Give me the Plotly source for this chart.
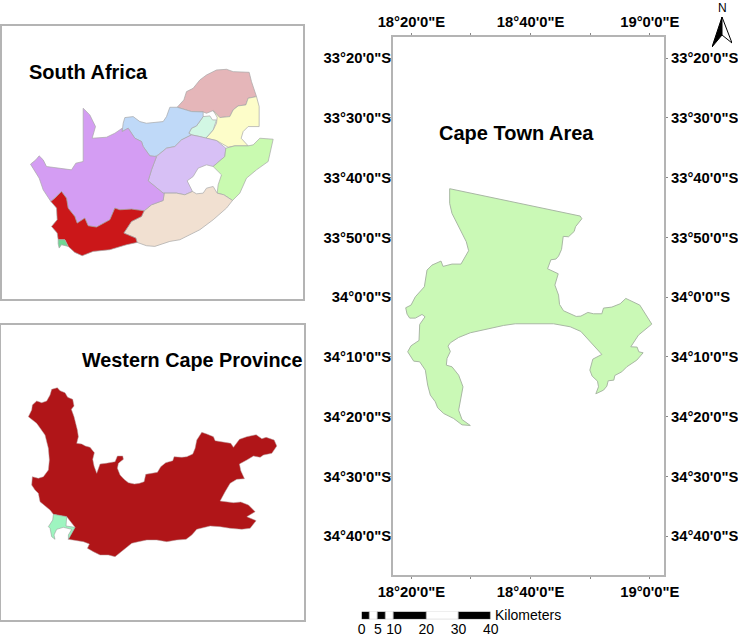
import plotly.graph_objects as go

W, H = 738, 636
FONT = "Liberation Sans, Arial, sans-serif"
FRAME = "#b4b4b4"
EDGE = "#a8a8a8"

# ---------- Map outlines (digitised map units, y grows southward) ----------
limpopo = [(532,262),(552,240),(560,215),(580,205),(600,180),(620,165),(650,150),(680,148),(700,155),(748,157),(755,185),(770,230),(745,235),(738,255),(715,258),(700,270),(690,290),(660,293),(640,272),(620,280),(610,276),(575,275)]
mpumalanga = [(770,230),(778,260),(778,320),(745,320),(730,335),(724,355),(745,378),(705,378),(685,382),(650,362),(618,355),(640,330),(650,310),(652,292),(640,272),(660,293),(690,290),(700,270),(715,258),(738,255),(745,235)]
gauteng = [(610,290),(630,288),(638,300),(650,300),(640,330),(618,355),(600,350),(575,345),(567,340),(575,325),(590,318),(600,305)]
north_west = [(375,293),(400,290),(420,305),(440,310),(490,305),(500,290),(510,262),(532,262),(575,275),(610,276),(610,290),(600,305),(590,318),(575,325),(567,340),(575,345),(545,360),(525,380),(500,385),(475,405),(465,410),(450,408),(430,380),(425,365),(405,355),(385,325),(367,335),(370,310)]
free_state = [(545,360),(575,345),(600,350),(618,355),(650,362),(678,385),(675,410),(640,440),(620,435),(595,445),(580,470),(562,483),(578,515),(555,525),(530,520),(490,520),(445,483),(455,450),(470,410),(500,385),(525,380)]
kzn = [(780,355),(820,358),(805,425),(770,450),(740,475),(720,520),(698,542),(672,525),(652,520),(655,495),(665,465),(640,440),(675,410),(678,385),(705,378),(745,378),(760,375)]
eastern_cape = [(698,542),(680,565),(640,600),(600,630),(540,660),(510,665),(465,680),(440,678),(412,668),(408,655),(372,640),(395,605),(425,590),(433,573),(455,555),(490,542),(493,520),(530,520),(555,525),(578,515),(590,522),(610,520),(620,505),(640,500),(652,520),(672,525)]
northern_cape = [(250,265),(270,285),(287,320),(277,355),(320,352),(345,340),(367,325),(367,335),(385,325),(405,355),(425,365),(430,380),(450,408),(465,410),(470,410),(455,450),(445,483),(490,520),(493,520),(490,542),(455,555),(433,573),(395,568),(360,570),(345,565),(330,600),(290,622),(265,618),(255,595),(232,610),(225,590),(205,565),(200,535),(185,515),(165,535),(153,545),(130,510),(118,475),(92,433),(108,420),(118,408),(130,420),(140,440),(180,445),(215,450),(228,430),(250,425)]
western_cape = [(185,515),(200,535),(205,565),(225,590),(232,610),(255,595),(265,618),(290,622),(330,600),(345,565),(360,570),(395,568),(433,573),(425,590),(395,605),(372,640),(408,655),(412,668),(380,675),(330,690),(280,695),(247,708),(225,698),(205,680),(195,660),(175,660),(172,640),(155,620),(172,600),(170,565),(153,545),(165,535)]
sa_cape_town = [(175,660),(195,660),(205,680),(185,675),(178,685),(175,672)]

province_shapes = [limpopo, mpumalanga, gauteng, north_west, free_state, kzn, eastern_cape, northern_cape, western_cape, sa_cape_town]
province_colors = ["#e5b6b9", "#fdfdc9", "#d2f7e4", "#bfd9f8", "#d7c0f5", "#c9fab0", "#f1e0d1", "#d49df3", "#cb1719", "#6fd694"]

wc_outline = [(155,208),(172,203),(180,212),(195,218),(203,232),(218,238),(222,258),(214,268),(222,290),(228,310),(232,330),(235,350),(230,370),(245,372),(256,378),(270,382),(283,398),(278,418),(282,438),(290,460),(296,445),(300,432),(318,430),(332,428),(345,425),(352,408),(368,408),(370,418),(355,430),(352,445),(360,465),(372,478),(385,488),(403,492),(418,490),(432,485),(437,463),(455,460),(472,457),(482,440),(497,428),(518,422),(522,410),(545,412),(560,410),(578,402),(585,385),(590,360),(605,337),(620,342),(640,350),(645,362),(665,365),(692,370),(700,382),(718,358),(740,350),(768,344),(785,356),(798,352),(822,360),(830,378),(815,400),(790,405),(780,412),(760,408),(740,420),(718,432),(722,452),(733,476),(710,478),(690,490),(675,515),(660,543),(700,548),(722,546),(745,555),(765,575),(740,590),(768,602),(750,625),(725,628),(690,625),(660,620),(630,618),(590,628),(575,645),(558,658),(530,660),(500,665),(470,660),(440,660),(415,665),(395,670),(370,690),(345,710),(325,705),(300,705),(280,695),(262,685),(268,672),(250,665),(205,658),(225,622),(200,590),(160,583),(150,570),(120,545),(115,520),(105,510),(95,495),(97,470),(115,475),(130,470),(145,450),(148,420),(145,385),(135,345),(110,310),(85,290),(95,270),(97,255),(110,243),(125,248),(140,243),(150,225)]
wc_cape_town = [(160,583),(200,590),(198,618),(225,622),(215,640),(205,658),(205,645),(215,628),(190,622),(170,628),(162,645),(165,658),(155,650),(150,625),(145,620),(158,600)]

cape_town_area = [(178,56),(570,138),(575,146),(556,170),(552,184),(535,200),(519,199),(514,238),(505,258),(497,267),(482,269),(472,296),(504,311),(494,345),(505,375),(508,403),(520,422),(558,439),(572,438),(593,427),(610,431),(635,431),(640,414),(665,411),(690,401),(707,385),(749,405),(785,462),(745,495),(722,530),(741,531),(746,545),(759,548),(740,570),(710,590),(695,605),(674,616),(671,630),(654,632),(650,648),(640,660),(617,671),(625,650),(622,633),(606,618),(599,600),(608,567),(635,553),(572,484),(540,470),(490,461),(430,460),(375,461),(340,466),(300,475),(240,488),(205,502),(180,518),(173,528),(180,544),(170,565),(168,585),(185,590),(205,615),(218,650),(212,685),(205,720),(215,748),(240,766),(215,764),(190,745),(160,730),(142,713),(135,695),(120,675),(112,645),(105,600),(88,575),(70,573),(52,545),(62,527),(86,511),(88,463),(104,440),(95,433),(75,444),(58,444),(50,432),(46,413),(62,405),(75,380),(102,350),(110,300),(125,285),(152,273),(158,289),(185,282),(212,282),(235,242),(228,215),(205,170),(185,130),(178,100)]

# Calibration of the digitised Cape Town units to degrees
LON_AT_0, LON_PER_UNIT = 18.2747, 0.000931
LAT_AT_0, LAT_PER_UNIT = -33.6457, -0.000930

# ---------- Graticule ----------
lon_ticks = [18 + 20/60, 18.5, 18 + 40/60, 18 + 50/60, 19.0]
lon_labels = ["18°20'0\"E", "", "18°40'0\"E", "", "19°0'0\"E"]
lat_ticks = [-(33 + 20/60), -(33 + 30/60), -(33 + 40/60), -(33 + 50/60), -34.0,
             -(34 + 10/60), -(34 + 20/60), -(34 + 30/60), -(34 + 40/60)]
lat_labels = ["33°20'0\"S", "33°30'0\"S", "33°40'0\"S", "33°50'0\"S", "34°0'0\"S",
              "34°10'0\"S", "34°20'0\"S", "34°30'0\"S", "34°40'0\"S"]

# ---------- Scale bar ----------
seg_start = [0, 2.5, 5, 7.5, 10, 20, 30]
seg_width = [2.5, 2.5, 2.5, 2.5, 10, 10, 10]
seg_color = ["black", "white", "black", "white", "black", "white", "black"]
km_ticks = [0, 5, 10, 20, 30, 40]

# ---------- North arrow ----------
arrow_left = [(0, 0), (-10, 30), (0, 18)]
arrow_right = [(0, 0), (10, 26), (0, 18)]


def px_dom(a, b, size):
    return [a / size, b / size]


def py_dom(top, bottom):
    return [1 - bottom / H, 1 - top / H]


def poly(points, color, xa, ya, line=EDGE, lw=0.7):
    xs = [p[0] for p in points] + [points[0][0]]
    ys = [p[1] for p in points] + [points[0][1]]
    return go.Scatter(x=xs, y=ys, xaxis=xa, yaxis=ya, mode="lines", fill="toself",
                      fillcolor=color, line=dict(color=line, width=lw), hoverinfo="skip", showlegend=False)


fig = go.Figure()

for shp, col in zip(province_shapes, province_colors):
    fig.add_trace(poly(shp, col, "x", "y"))

fig.add_trace(poly(wc_outline, "#b01518", "x2", "y2", line="#b9a0a0", lw=0.5))
fig.add_trace(poly(wc_cape_town, "#9ef5c0", "x2", "y2", line="#909090", lw=0.5))

ct_lon = [LON_AT_0 + p[0] * LON_PER_UNIT for p in cape_town_area]
ct_lat = [LAT_AT_0 + p[1] * LAT_PER_UNIT for p in cape_town_area]
fig.add_trace(poly(list(zip(ct_lon, ct_lat)), "#caf9b6", "x3", "y3", line="#a9b8a4", lw=1))
fig.add_trace(go.Scatter(x=[None], y=[None], xaxis="x4", yaxis="y4", showlegend=False, hoverinfo="skip"))

fig.add_trace(go.Bar(x=seg_width, base=seg_start, y=[0]*len(seg_start), orientation="h", width=1,
                     marker=dict(color=seg_color, line=dict(color="#999999", width=0.7)),
                     xaxis="x5", yaxis="y5", showlegend=False, hoverinfo="skip"))

fig.add_trace(poly(arrow_left, "black", "x6", "y6", line="black", lw=1))
fig.add_trace(poly(arrow_right, "white", "x6", "y6", line="black", lw=1))

tick_font = dict(family=FONT, size=14.8, color="black", weight="bold")
hidden = dict(showticklabels=False, ticks="", showgrid=False, zeroline=False)
panel = dict(showline=True, mirror=True, linecolor=FRAME, linewidth=1.5, **hidden)
off = dict(visible=False, showgrid=False, zeroline=False)

grat_x = dict(tickmode="array", tickvals=lon_ticks, ticktext=lon_labels, range=[18.282, 19.0397],
              ticks="outside", ticklen=2, tickcolor="#888888", tickfont=tick_font, showgrid=False, zeroline=False,
              showline=True, linecolor=FRAME, linewidth=2)
grat_y = dict(tickmode="array", tickvals=lat_ticks, ticktext=lat_labels, range=[-34.775, -33.2747],
              ticks="outside", ticklen=2, tickcolor="#888888", tickfont=tick_font, showgrid=False, zeroline=False,
              showline=True, linecolor=FRAME, linewidth=2)

fig.update_layout(
    template="none",
    width=W, height=H, margin=dict(l=0, r=0, t=0, b=0), autosize=False,
    paper_bgcolor="white", plot_bgcolor="white", showlegend=False, bargap=0,
    font=dict(family=FONT, color="black"),
    xaxis=dict(domain=px_dom(1.5, 302.5, W), range=[5, 908], **panel),
    yaxis=dict(domain=py_dom(25.7, 299), range=[838, 17], **panel),
    xaxis2=dict(domain=px_dom(1, 303.5, W), range=[3, 910], anchor="y2", **panel),
    yaxis2=dict(domain=py_dom(324.7, 620), range=[900, 14], anchor="x2", **panel),
    xaxis3=dict(domain=px_dom(393, 664, W), anchor="y3", side="bottom", **grat_x),
    yaxis3=dict(domain=py_dom(37, 575), anchor="x3", side="left", ticklabelstandoff=-5, **grat_y),
    xaxis4=dict(overlaying="x3", anchor="y4", side="top", **grat_x),
    yaxis4=dict(overlaying="y3", anchor="x4", side="right", **grat_y),
    xaxis5=dict(domain=px_dom(361.7, 490.7, W), range=[0, 40], anchor="y5", tickmode="array", tickvals=km_ticks,
                ticks="", showgrid=False, zeroline=False, showline=False, ticklabelstandoff=0,
                tickfont=dict(family=FONT, size=14, color="black")),
    yaxis5=dict(domain=py_dom(611.7, 619.3), range=[-0.5, 0.5], anchor="x5", **off),
    xaxis6=dict(domain=px_dom(712, 732, W), range=[-10, 10], anchor="y6", **off),
    yaxis6=dict(domain=py_dom(17, 47), range=[30, 0], anchor="x6", **off),
    annotations=[
        dict(text="<b>South Africa</b>", xref="x", yref="y", x=82, y=155, xanchor="left", yanchor="middle",
             showarrow=False, font=dict(size=20, family=FONT)),
        dict(text="<b>Western Cape Province</b>", xref="x2", yref="y2", x=240, y=121, xanchor="left", yanchor="middle",
             showarrow=False, font=dict(size=19.8, family=FONT)),
        dict(text="<b>Cape Town Area</b>", xref="paper", yref="paper", x=516.5/W, y=1-133/H, xanchor="center", yanchor="middle",
             showarrow=False, font=dict(size=20, family=FONT)),
        dict(text="Kilometers", xref="paper", yref="paper", x=492.5/W, y=1-615/H, xanchor="left", yanchor="middle",
             showarrow=False, font=dict(size=14, family=FONT)),
        dict(text="N", xref="paper", yref="paper", x=722/W, y=1-8/H, xanchor="center", yanchor="middle",
             showarrow=False, font=dict(size=12, family=FONT)),
    ],
)

fig.write_html("out.html", config=dict(displayModeBar=False), post_script="document.body.style.margin='0';")
